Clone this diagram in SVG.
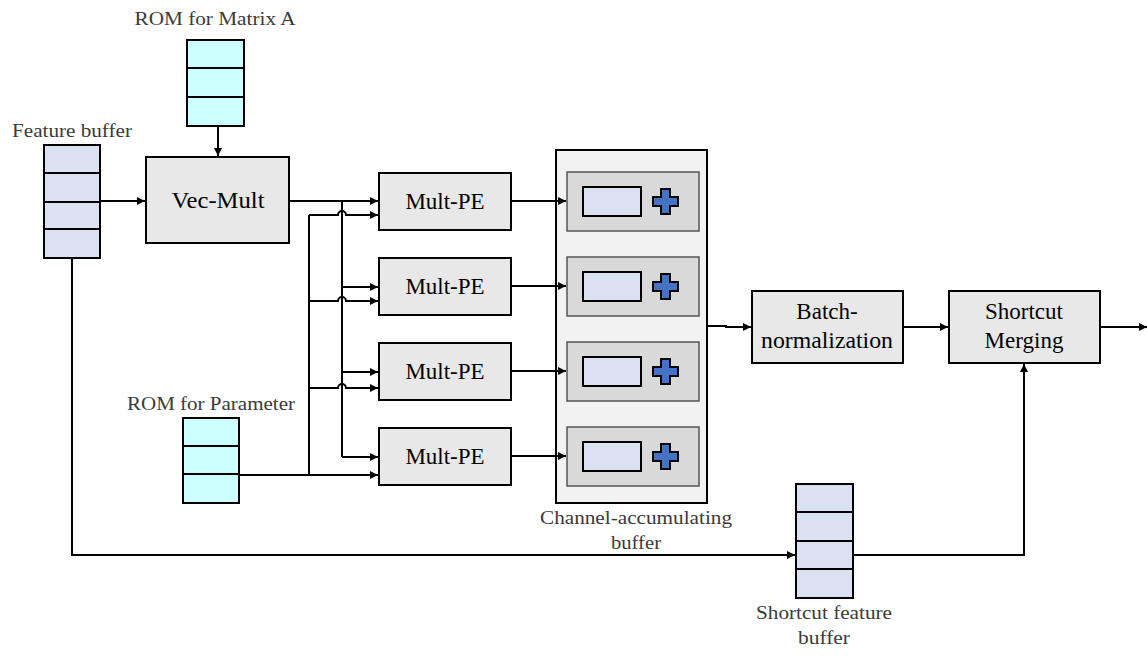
<svg xmlns="http://www.w3.org/2000/svg" width="1147" height="661" viewBox="0 0 1147 661">
<defs>
<marker id="arr" markerWidth="8" markerHeight="8" refX="8" refY="4" orient="auto" markerUnits="userSpaceOnUse">
<path d="M0,0 L8,4 L0,8 Z" fill="#000"/>
</marker>
<style>
.box{fill:#e8e8e8;stroke:#000;stroke-width:2}
.rom{fill:#ccffff;stroke:#000;stroke-width:2}
.fb{fill:#dae1f0;stroke:#000;stroke-width:2}
.div{stroke:#000;stroke-width:2}
.line{fill:none;stroke:#000;stroke-width:2}
.arrow{fill:none;stroke:#000;stroke-width:2;marker-end:url(#arr)}
text{font-family:'Liberation Serif','DejaVu Serif','Times New Roman',Times,serif}
.t{font-size:23px;fill:#000;text-anchor:middle}
.lbl{font-size:19px;fill:#3a3a3a;text-anchor:middle}
.inner{fill:#d9d9d9;stroke:#555;stroke-width:1.5}
.cell{fill:#dae1f0;stroke:#000;stroke-width:2}
.plus{fill:#4472c4;stroke:#000;stroke-width:2}
</style>
</defs>
<rect width="1147" height="661" fill="#fff"/>

<g id="rom-matrix-a">
<text class="lbl" x="215" y="25" textLength="161" lengthAdjust="spacingAndGlyphs">ROM for Matrix A</text>
<rect class="rom" x="187" y="40" width="57" height="86"/>
<line class="div" x1="187" y1="68" x2="244" y2="68"/>
<line class="div" x1="187" y1="97" x2="244" y2="97"/>
</g>

<g id="feature-buffer">
<text class="lbl" x="72" y="137" textLength="120" lengthAdjust="spacingAndGlyphs">Feature buffer</text>
<rect class="fb" x="44" y="145" width="56" height="113"/>
<line class="div" x1="44" y1="173" x2="100" y2="173"/>
<line class="div" x1="44" y1="202" x2="100" y2="202"/>
<line class="div" x1="44" y1="229" x2="100" y2="229"/>
</g>

<g id="vec-mult">
<rect class="box" x="146" y="157" width="143" height="86"/>
<text class="t" x="218" y="208" textLength="93" lengthAdjust="spacingAndGlyphs">Vec-Mult</text>
</g>

<g id="rom-parameter">
<text class="lbl" x="211" y="410" textLength="168" lengthAdjust="spacingAndGlyphs">ROM for Parameter</text>
<rect class="rom" x="183" y="418" width="56" height="85"/>
<line class="div" x1="183" y1="446" x2="239" y2="446"/>
<line class="div" x1="183" y1="474" x2="239" y2="474"/>
</g>

<g id="mult-pe-1">
<rect class="box" x="379" y="173" width="132" height="57"/>
<text class="t" x="445" y="209">Mult-PE</text>
</g>
<g id="mult-pe-2">
<rect class="box" x="379" y="258" width="132" height="57"/>
<text class="t" x="445" y="294">Mult-PE</text>
</g>
<g id="mult-pe-3">
<rect class="box" x="379" y="343" width="132" height="57"/>
<text class="t" x="445" y="379">Mult-PE</text>
</g>
<g id="mult-pe-4">
<rect class="box" x="379" y="428" width="132" height="57"/>
<text class="t" x="445" y="464">Mult-PE</text>
</g>

<g id="channel-accumulating-buffer">
<rect x="556" y="150" width="151" height="353" fill="#f2f2f2" stroke="#000" stroke-width="2"/>
<g>
<rect class="inner" x="567" y="172" width="132" height="59"/>
<rect class="cell" x="583" y="187" width="58" height="29"/>
<path class="plus" d="M661,189 H670 V197 H678 V206 H670 V214 H661 V206 H653 V197 H661 Z"/>
</g>
<g>
<rect class="inner" x="567" y="257" width="132" height="59"/>
<rect class="cell" x="583" y="272" width="58" height="29"/>
<path class="plus" d="M661,274 H670 V282 H678 V291 H670 V299 H661 V291 H653 V282 H661 Z"/>
</g>
<g>
<rect class="inner" x="567" y="342" width="132" height="59"/>
<rect class="cell" x="583" y="357" width="58" height="29"/>
<path class="plus" d="M661,359 H670 V367 H678 V376 H670 V384 H661 V376 H653 V367 H661 Z"/>
</g>
<g>
<rect class="inner" x="567" y="427" width="132" height="59"/>
<rect class="cell" x="583" y="442" width="58" height="29"/>
<path class="plus" d="M661,444 H670 V452 H678 V461 H670 V469 H661 V461 H653 V452 H661 Z"/>
</g>
<text class="lbl" x="636" y="524" textLength="192" lengthAdjust="spacingAndGlyphs">Channel-accumulating</text>
<text class="lbl" x="636" y="549" textLength="50" lengthAdjust="spacingAndGlyphs">buffer</text>
</g>

<g id="batch-normalization">
<rect class="box" x="752" y="291" width="151" height="72"/>
<text class="t" x="827" y="319">Batch-</text>
<text class="t" x="827" y="348" textLength="132" lengthAdjust="spacingAndGlyphs">normalization</text>
</g>

<g id="shortcut-merging">
<rect class="box" x="949" y="291" width="151" height="72"/>
<text class="t" x="1024" y="319">Shortcut</text>
<text class="t" x="1024" y="348">Merging</text>
</g>

<g id="shortcut-feature-buffer">
<rect class="fb" x="796" y="484" width="57" height="114"/>
<line class="div" x1="796" y1="512" x2="853" y2="512"/>
<line class="div" x1="796" y1="541" x2="853" y2="541"/>
<line class="div" x1="796" y1="569" x2="853" y2="569"/>
<text class="lbl" x="824" y="619" textLength="136" lengthAdjust="spacingAndGlyphs">Shortcut feature</text>
<text class="lbl" x="824" y="644" textLength="52" lengthAdjust="spacingAndGlyphs">buffer</text>
</g>

<g id="connectors">
<path class="arrow" d="M218,127 V156"/>
<path class="arrow" d="M101,201 H145"/>
<path class="arrow" d="M290,201 H378"/>
<path class="line" d="M342,201 V457"/>
<path class="arrow" d="M342,287 H378"/>
<path class="arrow" d="M342,372 H378"/>
<path class="arrow" d="M342,457 H378"/>
<path class="arrow" d="M240,475 H378"/>
<path class="line" d="M309,475 V215"/>
<path class="arrow" d="M309,215 H338 A4,4 0 0 1 346,215 H378"/>
<path class="arrow" d="M309,301 H338 A4,4 0 0 1 346,301 H378"/>
<path class="arrow" d="M309,388 H338 A4,4 0 0 1 346,388 H378"/>
<path class="arrow" d="M512,201 H566"/>
<path class="arrow" d="M512,286 H566"/>
<path class="arrow" d="M512,371 H566"/>
<path class="arrow" d="M512,456 H566"/>
<path class="arrow" d="M708,326 H726 V327 H751"/>
<path class="arrow" d="M904,327 H948"/>
<path class="arrow" d="M1101,327 H1147"/>
<path class="arrow" d="M72,259 V555 H795"/>
<path class="arrow" d="M854,555 H1024 V364"/>
</g>
</svg>
